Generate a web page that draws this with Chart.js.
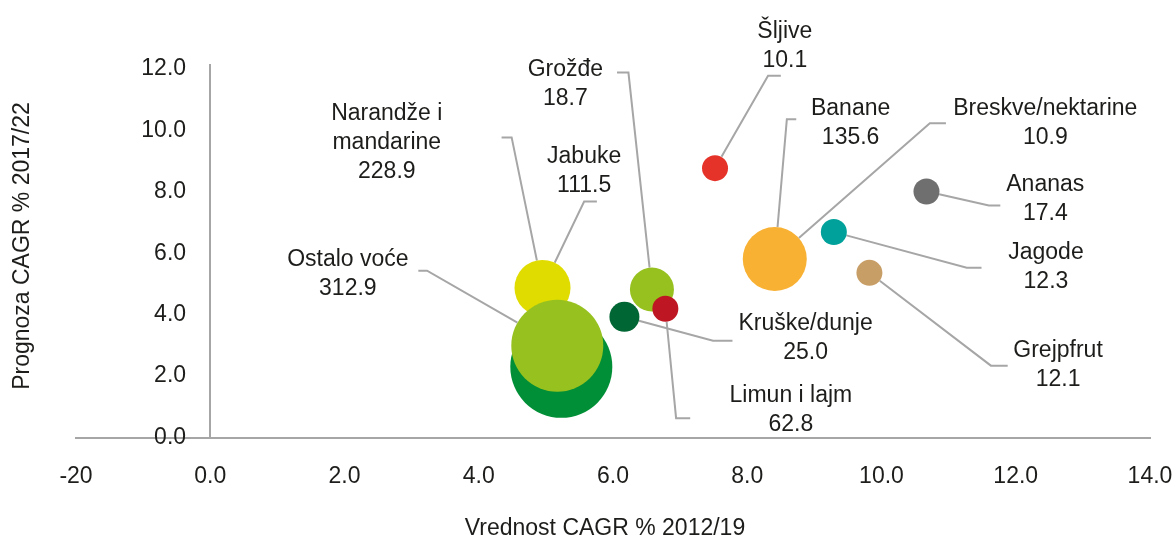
<!DOCTYPE html>
<html>
<head>
<meta charset="utf-8">
<script src="https://cdn.jsdelivr.net/npm/chart.js@4.4.1/dist/chart.umd.min.js"></script>
<style>
    body { margin: 0; background: #fff; }
    #wrap { width: 1176px; height: 540px; }
</style>
</head>
<body>
<div id="wrap"><canvas id="bubbles"></canvas></div>
<script>
// fruit categories and the value shown under each name
const fruits = ['Šljive', 'Banane', 'Breskve/nektarine', 'Ananas', 'Jagode', 'Grejpfrut',
    'Kruške/dunje', 'Limun i lajm', 'Grožđe', 'Jabuke', ['Narandže i', 'mandarine'], 'Ostalo voće'];
const fruitValues = [10.1, 135.6, 10.9, 17.4, 12.3, 12.1, 25.0, 62.8, 18.7, 111.5, 228.9, 312.9];

// bubbles (x = CAGR 2012/19, y = CAGR 2017/22, r = bubble size)
const bubbleX = [5.23, 4.95, 5.17, 6.58, 6.17, 6.78, 7.52, 8.41, 9.29, 10.67, 9.82];
const bubbleY = [2.30, 4.87, 2.99, 4.82, 3.93, 4.19, 8.77, 5.81, 6.69, 8.01, 5.36];
const bubbleR = [51, 28, 46, 22, 15, 13, 13, 32, 13, 13, 13];
// bubble each fruit label points at
const labelBubble = [6, 7, 7, 9, 8, 10, 4, 5, 3, 1, 1, 2];

const xTicks = [-2, 0, 2, 4, 6, 8, 10, 12, 14];
const xTickLabels = ['-20', '0.0', '2.0', '4.0', '6.0', '8.0', '10.0', '12.0', '14.0'];
const yTicks = [0, 2, 4, 6, 8, 10, 12];

const bubbleColors = ['#008f36', '#e0dc00', '#97c11f', '#97c11f', '#006633', '#be1622',
    '#e6332a', '#f8b133', '#00a19a', '#6f6f6f', '#c89e67'];

// where the labels and their leader lines sit (in axis units)
const callouts = [
    { text: [8.56, 13.00], from: [8.50, 11.78], elbow: 8.31 },
    { text: [9.54, 10.50], from: [8.73, 10.36], elbow: 8.59 },
    { text: [12.44, 10.50], from: [10.96, 10.23], elbow: 10.72 },
    { text: [12.44, 8.02], from: [11.77, 7.55], elbow: 11.60 },
    { text: [12.45, 5.81], from: [11.49, 5.53], elbow: 11.27 },
    { text: [12.63, 2.63], from: [11.88, 2.34], elbow: 11.63 },
    { text: [8.87, 3.50], from: [7.78, 3.15], elbow: 7.49 },
    { text: [8.65, 1.17], from: [7.15, 0.63], elbow: 6.94 },
    { text: [5.29, 11.77], from: [6.06, 11.88], elbow: 6.23 },
    { text: [5.57, 8.95], from: [5.76, 7.68], elbow: 5.57 },
    { text: [2.63, 10.34], from: [4.34, 9.77], elbow: 4.49 },
    { text: [2.05, 5.59], from: [3.10, 5.43], elbow: 3.23 }
];

const FONT = "'Liberation Sans', Arial, sans-serif";
const TEXT = '#1d1d1b';
const LINE = '#a6a6a6';

Chart.defaults.font.family = FONT;
Chart.defaults.font.size = 23;
Chart.defaults.color = TEXT;

const callouts_plugin = {
    id: 'callouts',
    beforeDatasetsDraw(chart) {
        const { ctx, scales: { x, y } } = chart;
        const meta = chart.getDatasetMeta(0);
        ctx.save();
        ctx.strokeStyle = LINE;
        ctx.lineWidth = 2;
        callouts.forEach((c, i) => {
            const pt = meta.data[labelBubble[i]];
            const sx = x.getPixelForValue(c.from[0]);
            const sy = y.getPixelForValue(c.from[1]);
            const ex = x.getPixelForValue(c.elbow);
            const dx = ex - pt.x, dy = sy - pt.y;
            const d = Math.hypot(dx, dy);
            const r = pt.options.radius;
            ctx.beginPath();
            ctx.moveTo(sx, sy);
            ctx.lineTo(ex, sy);
            ctx.lineTo(pt.x + dx / d * r, pt.y + dy / d * r);
            ctx.stroke();
        });
        ctx.restore();
    },
    afterDatasetsDraw(chart) {
        const { ctx, scales: { x, y } } = chart;
        ctx.save();
        ctx.font = '23px ' + FONT;
        ctx.fillStyle = TEXT;
        ctx.textAlign = 'center';
        ctx.textBaseline = 'alphabetic';
        fruits.forEach((name, i) => {
            const lines = [].concat(name, fruitValues[i].toFixed(1));
            const cx = x.getPixelForValue(callouts[i].text[0]);
            const by = y.getPixelForValue(callouts[i].text[1]);
            lines.forEach((t, k) => ctx.fillText(t, cx, by + k * 29));
        });
        // axis titles
        ctx.textBaseline = 'middle';
        ctx.fillText('Vrednost CAGR % 2012/19', 605, 529);
        ctx.translate(23, 246);
        ctx.rotate(-Math.PI / 2);
        ctx.fillText('Prognoza CAGR % 2017/22', 0, 0);
        ctx.restore();
    }
};

new Chart(document.getElementById('bubbles'), {
    type: 'bubble',
    data: {
        datasets: [{
            data: bubbleX.map((v, i) => ({ x: v, y: bubbleY[i], r: bubbleR[i] })),
            backgroundColor: bubbleColors,
            borderWidth: 0
        }]
    },
    options: {
        responsive: true,
        maintainAspectRatio: false,
        animation: false,
        layout: {
            autoPadding: false, // the big bubbles would otherwise push the plot in
            padding: { top: 64, left: 76, right: 26, bottom: 0 }
        },
        plugins: {
            legend: { display: false },
            tooltip: { enabled: false }
        },
        scales: {
            x: {
                type: 'linear',
                min: -2,
                max: 14,
                // only the line at x = 0 is drawn, it works as the vertical axis
                grid: {
                    drawTicks: true,
                    tickLength: 23,
                    tickColor: 'rgba(0,0,0,0)',
                    lineWidth: 2,
                    color: c => (c.tick && c.tick.value === 0 ? LINE : 'rgba(0,0,0,0)')
                },
                border: { display: true, color: LINE, width: 2 },
                afterBuildTicks: scale => { scale.ticks = xTicks.map(v => ({ value: v })); },
                afterFit: scale => { scale.height = 102.5; },
                ticks: {
                    padding: 2,
                    maxRotation: 0,
                    callback: (v, i) => xTickLabels[i]
                }
            },
            y: {
                type: 'linear',
                position: { x: -0.36 },
                min: 0,
                max: 12.16,
                grid: { display: false, drawTicks: false },
                border: { display: false },
                afterBuildTicks: scale => { scale.ticks = yTicks.map(v => ({ value: v })); },
                ticks: {
                    callback: v => v.toFixed(1)
                }
            }
        }
    },
    plugins: [callouts_plugin]
});
</script>
</body>
</html>
